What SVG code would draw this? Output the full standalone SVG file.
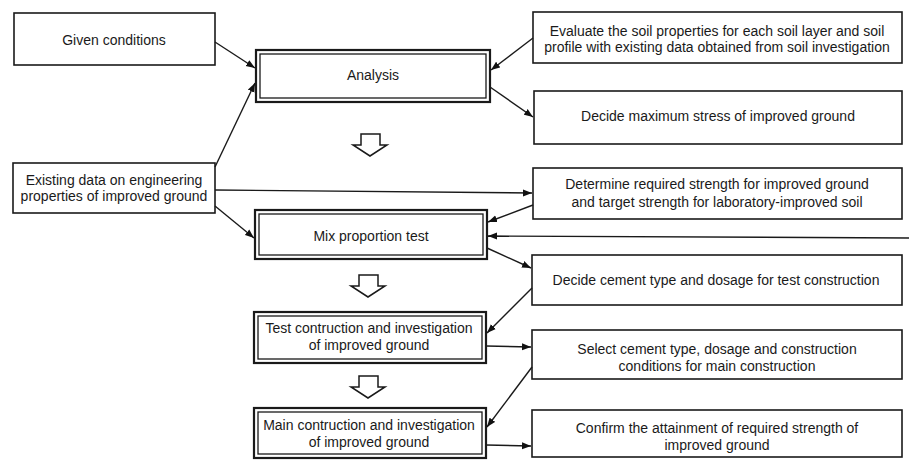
<svg xmlns="http://www.w3.org/2000/svg" width="909" height="460" viewBox="0 0 909 460">
<defs>
<marker id="ah" markerWidth="10" markerHeight="8" refX="9" refY="4" orient="auto" markerUnits="userSpaceOnUse">
<path d="M0,0.5 L9,4 L0,7.5 Z" fill="#111"/>
</marker>
<style>
text{font-family:"Liberation Sans",Arial,sans-serif;font-size:14px;fill:#1a1a1a;text-anchor:middle}
.box{fill:#fff;stroke:#1a1a1a;stroke-width:1.6}
.outer{fill:#fff;stroke:#1a1a1a;stroke-width:2.2}
.inner{fill:none;stroke:#1a1a1a;stroke-width:1.3}
.con{fill:none;stroke:#1a1a1a;stroke-width:1.4;marker-end:url(#ah)}
.hollow{fill:#fff;stroke:#1a1a1a;stroke-width:1.5;stroke-linejoin:miter}
</style>
</defs>
<rect width="909" height="460" fill="#fff"/>

<g id="given">
<rect class="box" x="14" y="13" width="201" height="52"/>
<text x="114" y="45">Given conditions</text>
</g>
<g id="existing">
<rect class="box" x="13" y="163" width="202" height="50"/>
<text x="114" y="185">Existing data on engineering</text>
<text x="114" y="201">properties of improved ground</text>
</g>

<g id="analysis">
<rect class="outer" x="256" y="50" width="234" height="52"/>
<rect class="inner" x="260" y="54" width="226" height="44"/>
<text x="373" y="80">Analysis</text>
</g>
<g id="mix">
<rect class="outer" x="255" y="210" width="232" height="49"/>
<rect class="inner" x="259" y="214" width="224" height="41"/>
<text x="371" y="241">Mix proportion test</text>
</g>
<g id="test">
<rect class="outer" x="254" y="312" width="232" height="51"/>
<rect class="inner" x="258" y="316" width="224" height="43"/>
<text x="369" y="333">Test contruction and investigation</text>
<text x="369" y="350">of improved ground</text>
</g>
<g id="main">
<rect class="outer" x="254" y="408" width="232" height="50"/>
<rect class="inner" x="258" y="412" width="224" height="42"/>
<text x="369" y="430">Main contruction and investigation</text>
<text x="369" y="447">of improved ground</text>
</g>

<g id="evaluate">
<rect class="box" x="533" y="12" width="369" height="51"/>
<text x="717" y="36">Evaluate the soil properties for each soil layer and soil</text>
<text x="717" y="52">profile with existing data obtained from soil investigation</text>
</g>
<g id="maxstress">
<rect class="box" x="534" y="91" width="368" height="53"/>
<text x="718" y="121">Decide maximum stress of improved ground</text>
</g>
<g id="determine">
<rect class="box" x="533" y="168" width="369" height="51"/>
<text x="717" y="189">Determine required strength for improved ground</text>
<text x="717" y="207">and target strength for laboratory-improved soil</text>
</g>
<g id="cement">
<rect class="box" x="532" y="255" width="370" height="50"/>
<text x="716" y="285">Decide cement type and dosage for test construction</text>
</g>
<g id="select">
<rect class="box" x="532" y="330" width="370" height="49"/>
<text x="717" y="354">Select cement type, dosage and construction</text>
<text x="717" y="371">conditions for main construction</text>
</g>
<g id="confirm">
<rect class="box" x="532" y="410" width="370" height="47"/>
<text x="717" y="433">Confirm the attainment of required strength of</text>
<text x="717" y="450">improved ground</text>
</g>

<g id="flow-arrows">
<path class="hollow" d="M361,134 H380 V145 H387 L370,156 L353,145 H361 Z"/>
<path class="hollow" d="M359,275 H378 V286 H385 L368,297 L351,286 H359 Z"/>
<path class="hollow" d="M359,376 H378 V387 H385 L368,398 L351,387 H359 Z"/>
</g>

<g id="connectors">
<line class="con" x1="215" y1="42" x2="255" y2="68"/>
<line class="con" x1="215" y1="167" x2="255" y2="83"/>
<line class="con" x1="215" y1="190" x2="532" y2="193"/>
<line class="con" x1="215" y1="206" x2="254" y2="238"/>
<line class="con" x1="533" y1="38" x2="491" y2="70"/>
<line class="con" x1="490" y1="87" x2="533" y2="117"/>
<line class="con" x1="533" y1="205" x2="488" y2="222"/>
<line class="con" x1="909" y1="238" x2="488" y2="236"/>
<line class="con" x1="487" y1="248" x2="531" y2="268"/>
<line class="con" x1="532" y1="288" x2="487" y2="333"/>
<line class="con" x1="486" y1="346" x2="531" y2="347"/>
<line class="con" x1="532" y1="367" x2="487" y2="427"/>
<line class="con" x1="486" y1="445" x2="531" y2="446"/>
</g>
</svg>
